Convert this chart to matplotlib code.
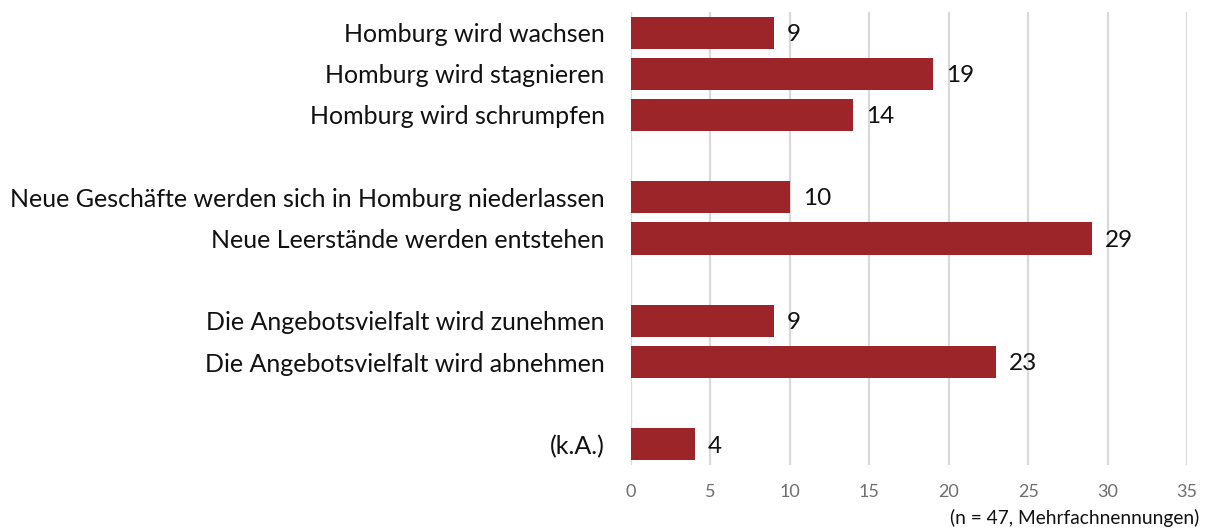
import matplotlib
matplotlib.use("Agg")
import matplotlib.pyplot as plt

categories = [
    "Homburg wird wachsen",
    "Homburg wird stagnieren",
    "Homburg wird schrumpfen",
    "",
    "Neue Geschäfte werden sich in Homburg niederlassen",
    "Neue Leerstände werden entstehen",
    "",
    "Die Angebotsvielfalt wird zunehmen",
    "Die Angebotsvielfalt wird abnehmen",
    "",
    "(k.A.)",
]
values = [9, 19, 14, None, 10, 29, None, 9, 23, None, 4]
xticks = [0, 5, 10, 15, 20, 25, 30, 35]
note = "(n = 47, Mehrfachnennungen)"

plt.rcParams["font.family"] = ["Lato", "DejaVu Sans"]

fig = plt.figure(figsize=(12.13, 5.31), dpi=100)
ax = fig.add_axes([0.5202, 0.1243, 0.4584, 0.8531])

bar_color = "#9C2529"
positions = list(range(len(categories)))
for pos, val in zip(positions, values):
    if val is None:
        continue
    ax.barh(pos, val, height=0.78, color=bar_color, zorder=3)
    ax.text(val + 0.8, pos + 0.04, str(val), va="center", ha="left",
            fontsize=17.5, color="#111111")

ax.set_ylim(len(categories) - 0.5, -0.5)
ax.set_xlim(0, 35)
ax.set_xticks(xticks)
ax.set_xticklabels([str(t) for t in xticks], fontsize=13, color="#6E6E6E")
ax.set_yticks(positions)
ax.set_yticklabels(categories, fontsize=18, color="#111111")
ax.tick_params(axis="both", length=0)
ax.tick_params(axis="y", pad=19)
ax.tick_params(axis="x", pad=14)
ax.xaxis.grid(True, color="#D9D9D9", linewidth=1.6, zorder=0)
for s in ax.spines.values():
    s.set_visible(False)

fig.text(0.9885, 0.025, note, ha="right", va="center", fontsize=13.8, color="#111111")

fig.savefig("out.png", dpi=100)
